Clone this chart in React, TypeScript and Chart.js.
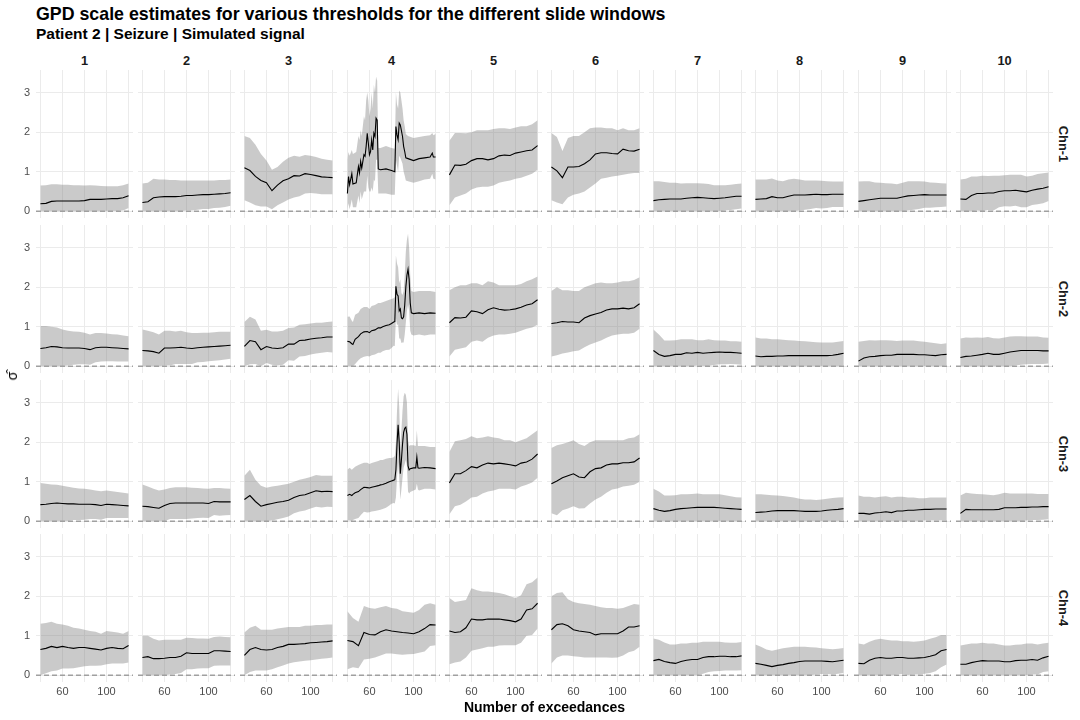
import React, { useEffect, useRef } from 'react';
import { Chart, registerables } from 'chart.js';

Chart.register(...registerables);

// ---------- text ----------
const TITLE = 'GPD scale estimates for various thresholds for the different slide windows';
const SUBTITLE = 'Patient 2 | Seizure | Simulated signal';
const X_TITLE = 'Number of exceedances';
const Y_TITLE = 'σ̂';
const WINDOWS = ['1', '2', '3', '4', '5', '6', '7', '8', '9', '10'];
const CHANNELS = ['Chn-1', 'Chn-2', 'Chn-3', 'Chn-4'];

// ---------- axes ----------
const X_GRID = [40, 60, 80, 100, 120];
const X_LABELED = [60, 100];
const Y_GRID = [0, 1, 2, 3];
const X_MIN = 36;
const X_MAX = 124;
const Y_MIN = -0.17;
const Y_MAX = 3.57;
const ZERO_LINE_Y = 0;

// ---------- x values (number of exceedances) ----------
const X_COMMON = [40, 45, 50, 55, 60, 65, 70, 75, 80, 85, 90, 95, 100, 105, 110, 115, 120];
const X_CHN1_W4 = [40, 41, 42, 44, 45, 48, 50, 51, 52, 53, 55, 56, 57, 58, 59, 60, 61, 62, 63, 64, 65, 66, 67, 68, 70, 75, 80, 83, 84, 85, 86, 87, 88, 90, 91, 92, 93, 95, 100, 105, 110, 115, 117, 118, 120];
const X_CHN2_W4 = [40, 42, 44, 45, 47, 50, 52, 55, 58, 60, 62, 65, 68, 70, 72, 75, 78, 80, 82, 83, 84, 85, 86, 87, 88, 89, 90, 91, 92, 93, 94, 95, 96, 97, 98, 100, 105, 110, 115, 120];
const X_CHN3_W4 = [40, 42, 44, 45, 47, 50, 52, 55, 58, 60, 62, 65, 68, 70, 72, 75, 78, 80, 82, 83, 84, 85, 86, 87, 88, 89, 90, 91, 92, 93, 94, 95, 96, 97, 100, 102, 103, 104, 105, 110, 115, 120];

// ---------- Chn-1 ----------
const CHN1_EST = [
  [0.19, 0.20, 0.25, 0.26, 0.26, 0.26, 0.26, 0.26, 0.27, 0.30, 0.30, 0.30, 0.31, 0.32, 0.32, 0.34, 0.39],
  [0.22, 0.24, 0.34, 0.36, 0.37, 0.37, 0.37, 0.38, 0.40, 0.40, 0.41, 0.42, 0.42, 0.43, 0.44, 0.45, 0.47],
  [1.10, 1.03, 0.88, 0.78, 0.72, 0.52, 0.66, 0.77, 0.82, 0.90, 0.89, 0.95, 0.93, 0.90, 0.87, 0.86, 0.85],
  [0.45, 0.88, 0.67, 0.95, 0.69, 0.72, 1.13, 0.97, 1.26, 1.09, 1.43, 1.39, 1.64, 1.97, 1.72, 1.43, 1.51, 1.80, 1.55, 1.97, 1.89, 2.35, 2.30, 1.07, 1.05, 1.07, 1.03, 1.00, 2.14, 1.93, 1.81, 2.23, 2.18, 1.89, 1.64, 1.51, 1.35, 1.33, 1.28, 1.33, 1.35, 1.37, 1.47, 1.37, 1.37],
  [0.92, 1.17, 1.16, 1.19, 1.28, 1.33, 1.33, 1.30, 1.33, 1.40, 1.42, 1.41, 1.47, 1.50, 1.53, 1.55, 1.66],
  [1.12, 1.02, 0.85, 1.12, 1.12, 1.13, 1.20, 1.30, 1.45, 1.48, 1.48, 1.46, 1.45, 1.57, 1.53, 1.52, 1.57],
  [0.27, 0.29, 0.30, 0.31, 0.31, 0.31, 0.33, 0.34, 0.35, 0.34, 0.33, 0.32, 0.33, 0.34, 0.36, 0.38, 0.38],
  [0.30, 0.31, 0.32, 0.37, 0.34, 0.34, 0.38, 0.41, 0.41, 0.41, 0.42, 0.43, 0.42, 0.42, 0.43, 0.43, 0.43],
  [0.25, 0.27, 0.29, 0.31, 0.33, 0.33, 0.33, 0.33, 0.36, 0.39, 0.40, 0.41, 0.42, 0.41, 0.41, 0.41, 0.41],
  [0.31, 0.30, 0.40, 0.45, 0.45, 0.46, 0.46, 0.50, 0.52, 0.52, 0.53, 0.51, 0.49, 0.53, 0.56, 0.58, 0.62],
];
const CHN1_UPPER = [
  [0.65, 0.66, 0.68, 0.68, 0.67, 0.67, 0.66, 0.66, 0.65, 0.66, 0.65, 0.64, 0.63, 0.63, 0.63, 0.66, 0.70],
  [0.70, 0.72, 0.82, 0.80, 0.80, 0.79, 0.79, 0.78, 0.78, 0.78, 0.78, 0.78, 0.78, 0.78, 0.79, 0.79, 0.80],
  [1.90, 1.85, 1.68, 1.45, 1.28, 1.05, 1.12, 1.25, 1.35, 1.40, 1.38, 1.42, 1.40, 1.37, 1.33, 1.30, 1.28],
  [1.30, 1.50, 1.40, 1.55, 1.45, 1.50, 1.90, 1.80, 2.05, 1.90, 2.40, 2.30, 2.80, 3.00, 2.80, 2.40, 2.60, 3.00, 2.60, 3.20, 3.00, 3.40, 3.30, 1.60, 1.60, 1.65, 1.60, 1.58, 3.00, 2.70, 2.60, 3.05, 3.00, 2.60, 2.30, 2.15, 1.95, 1.90, 1.85, 1.88, 1.90, 1.92, 1.98, 1.92, 1.95],
  [1.78, 1.98, 1.98, 1.97, 2.00, 2.05, 2.05, 2.05, 2.08, 2.10, 2.10, 2.08, 2.12, 2.15, 2.15, 2.20, 2.30],
  [1.98, 1.88, 1.52, 1.85, 1.90, 1.90, 2.00, 2.10, 2.12, 2.12, 2.10, 2.10, 2.05, 2.10, 2.05, 2.05, 2.10],
  [0.76, 0.76, 0.74, 0.72, 0.72, 0.70, 0.71, 0.71, 0.71, 0.70, 0.69, 0.66, 0.66, 0.66, 0.67, 0.69, 0.70],
  [0.80, 0.80, 0.80, 0.83, 0.78, 0.76, 0.80, 0.82, 0.80, 0.78, 0.78, 0.78, 0.77, 0.76, 0.75, 0.75, 0.75],
  [0.75, 0.76, 0.76, 0.73, 0.72, 0.71, 0.70, 0.68, 0.72, 0.76, 0.76, 0.76, 0.75, 0.73, 0.72, 0.71, 0.70],
  [0.80, 0.82, 0.88, 0.88, 0.90, 0.89, 0.90, 0.90, 0.91, 0.92, 0.92, 0.92, 0.88, 0.90, 0.94, 0.96, 0.98],
];
const CHN1_LOWER = [
  [0, 0, 0, 0, 0, 0, 0, 0, 0, 0, 0, 0, 0, 0.01, 0.01, 0.02, 0.08],
  [0, 0, 0, 0, 0, 0, 0, 0, 0.02, 0.02, 0.04, 0.06, 0.06, 0.08, 0.09, 0.11, 0.14],
  [0.28, 0.22, 0.15, 0.12, 0.12, 0.05, 0.15, 0.22, 0.30, 0.35, 0.38, 0.45, 0.46, 0.45, 0.43, 0.43, 0.43],
  [0.02, 0.20, 0.05, 0.30, 0.10, 0.10, 0.40, 0.20, 0.50, 0.30, 0.50, 0.50, 0.50, 0.90, 0.60, 0.50, 0.50, 0.60, 0.50, 0.80, 0.75, 1.30, 1.30, 0.45, 0.45, 0.45, 0.42, 0.42, 1.30, 1.15, 1.00, 1.40, 1.35, 1.20, 1.00, 0.90, 0.78, 0.76, 0.72, 0.76, 0.80, 0.82, 0.95, 0.82, 0.80],
  [0.15, 0.35, 0.40, 0.45, 0.55, 0.60, 0.62, 0.62, 0.65, 0.72, 0.75, 0.78, 0.82, 0.85, 0.90, 0.95, 1.05],
  [0.28, 0.22, 0.18, 0.35, 0.42, 0.45, 0.50, 0.60, 0.70, 0.82, 0.85, 0.88, 0.90, 0.92, 0.95, 0.97, 0.97],
  [0, 0, 0, 0, 0, 0, 0, 0, 0, 0, 0, 0, 0, 0.02, 0.03, 0.05, 0.07],
  [0, 0, 0, 0, 0, 0, 0, 0, 0.02, 0.04, 0.06, 0.08, 0.07, 0.08, 0.11, 0.11, 0.11],
  [0, 0, 0, 0, 0, 0, 0, 0, 0, 0.02, 0.04, 0.06, 0.09, 0.09, 0.10, 0.11, 0.12],
  [0, 0, 0, 0.02, 0, 0.03, 0.02, 0.10, 0.13, 0.12, 0.14, 0.10, 0.10, 0.16, 0.18, 0.20, 0.26],
];

// ---------- Chn-2 ----------
const CHN2_EST = [
  [0.45, 0.47, 0.50, 0.49, 0.47, 0.46, 0.46, 0.46, 0.45, 0.42, 0.47, 0.48, 0.48, 0.47, 0.46, 0.45, 0.44],
  [0.40, 0.39, 0.37, 0.33, 0.46, 0.46, 0.47, 0.48, 0.46, 0.45, 0.47, 0.48, 0.49, 0.50, 0.51, 0.52, 0.53],
  [0.50, 0.65, 0.62, 0.42, 0.50, 0.46, 0.45, 0.47, 0.56, 0.56, 0.65, 0.66, 0.69, 0.71, 0.72, 0.74, 0.74],
  [0.63, 0.62, 0.57, 0.55, 0.68, 0.75, 0.82, 0.87, 0.88, 0.85, 0.90, 0.92, 0.97, 0.97, 1.00, 1.03, 1.05, 1.08, 1.12, 1.13, 2.02, 1.82, 1.78, 1.40, 1.45, 1.22, 1.20, 1.25, 1.55, 2.00, 2.30, 2.45, 2.20, 1.60, 1.35, 1.33, 1.35, 1.33, 1.35, 1.34],
  [1.10, 1.23, 1.22, 1.24, 1.40, 1.38, 1.33, 1.43, 1.48, 1.44, 1.42, 1.43, 1.45, 1.49, 1.55, 1.58, 1.68],
  [1.08, 1.10, 1.13, 1.12, 1.12, 1.10, 1.22, 1.28, 1.32, 1.36, 1.42, 1.45, 1.45, 1.47, 1.45, 1.48, 1.58],
  [0.40, 0.30, 0.25, 0.27, 0.30, 0.30, 0.34, 0.33, 0.35, 0.33, 0.34, 0.35, 0.36, 0.35, 0.35, 0.34, 0.33],
  [0.26, 0.24, 0.25, 0.25, 0.26, 0.26, 0.27, 0.27, 0.27, 0.27, 0.27, 0.27, 0.27, 0.27, 0.28, 0.30, 0.33],
  [0.13, 0.21, 0.24, 0.25, 0.27, 0.28, 0.28, 0.30, 0.30, 0.30, 0.30, 0.29, 0.29, 0.28, 0.27, 0.29, 0.30],
  [0.22, 0.25, 0.26, 0.28, 0.30, 0.33, 0.30, 0.30, 0.33, 0.36, 0.38, 0.40, 0.40, 0.40, 0.40, 0.39, 0.39],
];
const CHN2_UPPER = [
  [1.02, 1.02, 1.00, 0.98, 0.93, 0.90, 0.88, 0.87, 0.85, 0.80, 0.84, 0.84, 0.83, 0.81, 0.80, 0.78, 0.76],
  [0.93, 0.90, 0.86, 0.80, 0.90, 0.90, 0.88, 0.90, 0.86, 0.84, 0.84, 0.85, 0.85, 0.86, 0.87, 0.87, 0.87],
  [1.12, 1.25, 1.18, 0.90, 0.92, 0.88, 0.88, 0.90, 0.97, 0.98, 1.05, 1.06, 1.08, 1.10, 1.10, 1.12, 1.13],
  [1.25, 1.26, 1.15, 1.12, 1.30, 1.35, 1.45, 1.50, 1.50, 1.45, 1.52, 1.55, 1.60, 1.60, 1.62, 1.65, 1.68, 1.70, 1.72, 1.75, 2.80, 2.60, 2.50, 2.10, 2.20, 1.85, 1.80, 1.90, 2.30, 2.90, 3.20, 3.35, 3.00, 2.30, 1.90, 1.88, 1.90, 1.90, 1.90, 1.88],
  [1.92, 2.00, 2.05, 2.05, 2.10, 2.10, 2.05, 2.15, 2.12, 2.05, 2.05, 2.05, 2.05, 2.08, 2.15, 2.20, 2.27],
  [1.90, 2.00, 1.92, 1.92, 1.90, 1.90, 2.00, 2.05, 2.10, 2.12, 2.10, 2.10, 2.12, 2.15, 2.15, 2.18, 2.25],
  [0.93, 0.80, 0.65, 0.65, 0.66, 0.68, 0.68, 0.68, 0.66, 0.66, 0.68, 0.66, 0.65, 0.65, 0.63, 0.63, 0.62],
  [0.73, 0.70, 0.70, 0.68, 0.68, 0.67, 0.66, 0.65, 0.64, 0.63, 0.62, 0.61, 0.60, 0.60, 0.60, 0.62, 0.64],
  [0.62, 0.64, 0.66, 0.65, 0.66, 0.66, 0.65, 0.64, 0.65, 0.65, 0.65, 0.63, 0.62, 0.60, 0.58, 0.56, 0.58],
  [0.70, 0.73, 0.72, 0.73, 0.72, 0.74, 0.71, 0.70, 0.73, 0.75, 0.76, 0.76, 0.75, 0.75, 0.75, 0.73, 0.72],
];
const CHN2_LOWER = [
  [0, 0, 0, 0, 0.01, 0.02, 0.04, 0.05, 0.05, 0.04, 0.10, 0.12, 0.13, 0.13, 0.12, 0.12, 0.12],
  [0, 0, 0, 0, 0.02, 0.02, 0.06, 0.06, 0.06, 0.06, 0.10, 0.11, 0.13, 0.14, 0.15, 0.17, 0.19],
  [0, 0.05, 0.06, 0, 0.08, 0.04, 0.02, 0.04, 0.15, 0.14, 0.25, 0.26, 0.30, 0.32, 0.34, 0.36, 0.35],
  [0.01, 0, 0, 0, 0.06, 0.15, 0.20, 0.24, 0.26, 0.25, 0.28, 0.30, 0.34, 0.34, 0.38, 0.41, 0.42, 0.46, 0.52, 0.51, 1.22, 1.04, 1.06, 0.70, 0.70, 0.59, 0.60, 0.60, 0.80, 1.10, 1.40, 1.55, 1.40, 0.90, 0.80, 0.78, 0.80, 0.78, 0.80, 0.80],
  [0.25, 0.42, 0.45, 0.48, 0.62, 0.65, 0.62, 0.72, 0.78, 0.80, 0.80, 0.82, 0.85, 0.90, 0.95, 0.98, 1.05],
  [0.25, 0.28, 0.32, 0.35, 0.38, 0.40, 0.48, 0.55, 0.60, 0.65, 0.72, 0.78, 0.80, 0.82, 0.82, 0.85, 0.95],
  [0, 0, 0, 0, 0, 0, 0, 0, 0.02, 0.01, 0.01, 0.03, 0.05, 0.05, 0.06, 0.05, 0.04],
  [0, 0, 0, 0, 0, 0, 0, 0, 0, 0, 0, 0, 0, 0, 0, 0, 0.02],
  [0, 0, 0, 0, 0, 0, 0, 0, 0, 0, 0, 0, 0, 0, 0, 0, 0.02],
  [0, 0, 0, 0, 0, 0, 0, 0, 0, 0, 0.02, 0.04, 0.05, 0.06, 0.06, 0.06, 0.07],
];

// ---------- Chn-3 ----------
const CHN3_EST = [
  [0.42, 0.43, 0.45, 0.46, 0.45, 0.44, 0.44, 0.43, 0.43, 0.43, 0.42, 0.40, 0.43, 0.42, 0.41, 0.40, 0.39],
  [0.38, 0.37, 0.35, 0.33, 0.40, 0.45, 0.46, 0.46, 0.46, 0.46, 0.46, 0.46, 0.45, 0.50, 0.49, 0.49, 0.49],
  [0.55, 0.65, 0.50, 0.38, 0.42, 0.45, 0.48, 0.50, 0.53, 0.60, 0.65, 0.67, 0.72, 0.77, 0.75, 0.76, 0.75],
  [0.65, 0.68, 0.65, 0.68, 0.72, 0.75, 0.80, 0.86, 0.85, 0.84, 0.86, 0.88, 0.90, 0.92, 0.93, 0.96, 1.00, 1.02, 1.04, 1.05, 1.30, 1.95, 2.44, 2.00, 1.20, 1.55, 1.95, 2.25, 2.35, 2.38, 2.20, 1.40, 1.30, 1.33, 1.35, 1.35, 1.62, 1.35, 1.34, 1.36, 1.35, 1.33],
  [0.97, 1.20, 1.20, 1.28, 1.38, 1.35, 1.42, 1.47, 1.45, 1.47, 1.45, 1.43, 1.40, 1.47, 1.50, 1.57, 1.70],
  [0.95, 1.02, 1.10, 1.15, 1.20, 1.12, 1.10, 1.25, 1.33, 1.35, 1.42, 1.45, 1.45, 1.48, 1.48, 1.50, 1.60],
  [0.32, 0.28, 0.25, 0.27, 0.30, 0.32, 0.33, 0.34, 0.35, 0.35, 0.35, 0.35, 0.34, 0.33, 0.32, 0.31, 0.30],
  [0.22, 0.23, 0.24, 0.26, 0.27, 0.27, 0.27, 0.27, 0.26, 0.25, 0.25, 0.25, 0.26, 0.28, 0.29, 0.30, 0.32],
  [0.20, 0.20, 0.18, 0.21, 0.22, 0.24, 0.22, 0.26, 0.26, 0.28, 0.28, 0.29, 0.30, 0.30, 0.31, 0.31, 0.31],
  [0.20, 0.30, 0.29, 0.29, 0.29, 0.29, 0.29, 0.30, 0.34, 0.34, 0.34, 0.35, 0.35, 0.36, 0.36, 0.37, 0.37],
];
const CHN3_UPPER = [
  [0.97, 0.95, 0.93, 0.92, 0.90, 0.87, 0.85, 0.83, 0.82, 0.80, 0.78, 0.76, 0.78, 0.76, 0.74, 0.72, 0.70],
  [0.93, 0.88, 0.82, 0.78, 0.80, 0.84, 0.86, 0.86, 0.86, 0.85, 0.84, 0.83, 0.82, 0.84, 0.84, 0.83, 0.82],
  [1.15, 1.30, 1.05, 0.90, 0.85, 0.88, 0.90, 0.92, 0.95, 1.00, 1.05, 1.08, 1.12, 1.17, 1.15, 1.15, 1.15],
  [1.30, 1.35, 1.30, 1.33, 1.38, 1.42, 1.45, 1.48, 1.48, 1.45, 1.47, 1.50, 1.52, 1.55, 1.55, 1.58, 1.60, 1.60, 1.62, 1.65, 2.00, 2.80, 3.35, 2.90, 1.85, 2.30, 2.80, 3.15, 3.25, 3.20, 3.00, 2.05, 1.90, 1.92, 1.92, 1.90, 2.30, 1.90, 1.90, 1.90, 1.88, 1.88],
  [1.75, 2.02, 2.05, 2.08, 2.15, 2.10, 2.12, 2.15, 2.12, 2.10, 2.05, 2.05, 2.00, 2.05, 2.10, 2.20, 2.30],
  [1.85, 1.92, 1.95, 2.00, 2.05, 1.95, 1.90, 2.00, 2.05, 2.05, 2.05, 2.05, 2.05, 2.05, 2.10, 2.12, 2.20],
  [0.82, 0.75, 0.65, 0.65, 0.66, 0.68, 0.68, 0.69, 0.70, 0.68, 0.68, 0.68, 0.68, 0.66, 0.63, 0.61, 0.60],
  [0.68, 0.68, 0.67, 0.66, 0.65, 0.64, 0.62, 0.60, 0.57, 0.55, 0.55, 0.54, 0.55, 0.57, 0.59, 0.60, 0.61],
  [0.65, 0.62, 0.62, 0.60, 0.62, 0.63, 0.60, 0.62, 0.62, 0.60, 0.60, 0.58, 0.58, 0.60, 0.60, 0.60, 0.60],
  [0.65, 0.72, 0.70, 0.69, 0.68, 0.67, 0.66, 0.68, 0.72, 0.70, 0.70, 0.70, 0.70, 0.70, 0.69, 0.69, 0.69],
];
const CHN3_LOWER = [
  [0, 0, 0, 0, 0, 0.01, 0.03, 0.03, 0.04, 0.06, 0.06, 0.04, 0.08, 0.08, 0.08, 0.08, 0.08],
  [0, 0, 0, 0, 0, 0.06, 0.06, 0.06, 0.06, 0.07, 0.08, 0.09, 0.08, 0.16, 0.14, 0.15, 0.16],
  [0, 0, 0, 0, 0, 0.02, 0.05, 0.08, 0.12, 0.20, 0.25, 0.27, 0.32, 0.37, 0.35, 0.37, 0.36],
  [0.02, 0.02, 0, 0.03, 0.06, 0.08, 0.15, 0.24, 0.22, 0.23, 0.25, 0.26, 0.28, 0.29, 0.31, 0.34, 0.40, 0.44, 0.46, 0.45, 0.60, 1.10, 1.50, 1.10, 0.55, 0.80, 1.10, 1.35, 1.45, 1.55, 1.40, 0.75, 0.70, 0.74, 0.78, 0.80, 0.95, 0.80, 0.78, 0.82, 0.82, 0.80],
  [0.18, 0.38, 0.42, 0.50, 0.60, 0.62, 0.70, 0.75, 0.78, 0.82, 0.82, 0.82, 0.80, 0.88, 0.92, 0.98, 1.10],
  [0.20, 0.15, 0.28, 0.32, 0.38, 0.32, 0.33, 0.45, 0.55, 0.62, 0.72, 0.80, 0.83, 0.88, 0.90, 0.92, 1.00],
  [0, 0, 0, 0, 0, 0, 0, 0, 0, 0, 0, 0, 0, 0, 0, 0, 0],
  [0, 0, 0, 0, 0, 0, 0, 0, 0, 0, 0, 0, 0, 0, 0, 0, 0.03],
  [0, 0, 0, 0, 0, 0, 0, 0, 0, 0, 0, 0, 0.02, 0.02, 0.02, 0.02, 0.02],
  [0, 0, 0, 0, 0, 0, 0, 0, 0, 0, 0, 0, 0.02, 0.03, 0.03, 0.04, 0.05],
];

// ---------- Chn-4 ----------
const CHN4_EST = [
  [0.65, 0.68, 0.73, 0.70, 0.73, 0.70, 0.68, 0.70, 0.70, 0.68, 0.66, 0.64, 0.68, 0.70, 0.68, 0.67, 0.75],
  [0.45, 0.47, 0.42, 0.42, 0.43, 0.45, 0.45, 0.48, 0.57, 0.55, 0.55, 0.55, 0.55, 0.62, 0.62, 0.61, 0.60],
  [0.50, 0.65, 0.70, 0.65, 0.64, 0.65, 0.70, 0.73, 0.78, 0.78, 0.79, 0.80, 0.82, 0.83, 0.84, 0.85, 0.87],
  [0.88, 0.85, 0.75, 1.08, 1.03, 1.02, 1.10, 1.15, 1.12, 1.10, 1.08, 1.07, 1.05, 1.10, 1.18, 1.28, 1.27],
  [1.12, 1.08, 1.10, 1.20, 1.42, 1.40, 1.40, 1.42, 1.42, 1.42, 1.40, 1.38, 1.35, 1.42, 1.65, 1.68, 1.82],
  [1.15, 1.28, 1.30, 1.25, 1.15, 1.12, 1.10, 1.08, 1.02, 1.05, 1.05, 1.05, 1.05, 1.12, 1.22, 1.22, 1.25],
  [0.37, 0.40, 0.35, 0.32, 0.30, 0.35, 0.38, 0.40, 0.40, 0.45, 0.47, 0.47, 0.48, 0.48, 0.47, 0.47, 0.49],
  [0.30, 0.28, 0.25, 0.22, 0.25, 0.27, 0.30, 0.32, 0.35, 0.36, 0.36, 0.36, 0.36, 0.35, 0.34, 0.36, 0.38],
  [0.30, 0.29, 0.38, 0.43, 0.45, 0.43, 0.43, 0.45, 0.45, 0.43, 0.43, 0.44, 0.45, 0.48, 0.52, 0.62, 0.65],
  [0.28, 0.28, 0.32, 0.35, 0.37, 0.36, 0.36, 0.36, 0.34, 0.34, 0.37, 0.38, 0.38, 0.40, 0.38, 0.44, 0.48],
];
const CHN4_UPPER = [
  [1.30, 1.32, 1.35, 1.30, 1.28, 1.25, 1.20, 1.18, 1.15, 1.12, 1.10, 1.05, 1.12, 1.10, 1.08, 1.05, 1.12],
  [1.00, 1.00, 0.92, 0.88, 0.90, 0.90, 0.90, 0.90, 0.95, 0.94, 0.93, 0.93, 0.92, 0.97, 0.98, 0.97, 0.96],
  [1.08, 1.20, 1.25, 1.15, 1.15, 1.15, 1.18, 1.20, 1.22, 1.22, 1.22, 1.25, 1.25, 1.27, 1.27, 1.28, 1.28],
  [1.62, 1.45, 1.35, 1.75, 1.70, 1.68, 1.72, 1.75, 1.70, 1.68, 1.62, 1.60, 1.58, 1.65, 1.78, 1.82, 1.78],
  [1.95, 1.85, 1.88, 1.90, 2.20, 2.15, 2.12, 2.12, 2.10, 2.08, 2.05, 2.00, 1.95, 2.02, 2.30, 2.35, 2.47],
  [2.00, 2.08, 2.10, 1.92, 1.85, 1.82, 1.80, 1.78, 1.75, 1.72, 1.70, 1.70, 1.68, 1.70, 1.75, 1.80, 1.78],
  [0.93, 0.90, 0.83, 0.78, 0.78, 0.80, 0.80, 0.82, 0.82, 0.85, 0.85, 0.85, 0.85, 0.83, 0.82, 0.82, 0.84],
  [0.78, 0.72, 0.65, 0.62, 0.65, 0.68, 0.70, 0.72, 0.72, 0.72, 0.71, 0.70, 0.68, 0.67, 0.66, 0.67, 0.69],
  [0.80, 0.78, 0.85, 0.90, 0.92, 0.90, 0.88, 0.88, 0.86, 0.86, 0.85, 0.86, 0.88, 0.92, 0.96, 1.02, 1.02],
  [0.75, 0.78, 0.80, 0.80, 0.82, 0.80, 0.80, 0.78, 0.75, 0.75, 0.77, 0.78, 0.80, 0.80, 0.78, 0.80, 0.82],
];
const CHN4_LOWER = [
  [0, 0.05, 0.10, 0.12, 0.17, 0.17, 0.18, 0.20, 0.23, 0.24, 0.24, 0.25, 0.28, 0.30, 0.30, 0.30, 0.32],
  [0, 0, 0, 0, 0, 0.02, 0.03, 0.06, 0.15, 0.15, 0.17, 0.18, 0.18, 0.24, 0.25, 0.25, 0.25],
  [0, 0.08, 0.12, 0.12, 0.12, 0.15, 0.20, 0.25, 0.30, 0.33, 0.35, 0.37, 0.38, 0.40, 0.42, 0.43, 0.45],
  [0.15, 0.20, 0.18, 0.40, 0.42, 0.45, 0.50, 0.55, 0.55, 0.53, 0.52, 0.53, 0.54, 0.57, 0.60, 0.74, 0.76],
  [0.28, 0.32, 0.35, 0.45, 0.62, 0.65, 0.68, 0.72, 0.72, 0.75, 0.76, 0.76, 0.76, 0.82, 1.00, 1.02, 1.18],
  [0.30, 0.45, 0.50, 0.50, 0.48, 0.47, 0.45, 0.45, 0.45, 0.45, 0.45, 0.44, 0.45, 0.50, 0.58, 0.62, 0.72],
  [0, 0, 0, 0, 0, 0, 0, 0, 0, 0.04, 0.08, 0.10, 0.11, 0.12, 0.12, 0.12, 0.13],
  [0, 0, 0, 0, 0, 0, 0, 0, 0, 0, 0, 0.02, 0.03, 0.03, 0.02, 0.04, 0.06],
  [0, 0, 0, 0, 0, 0, 0, 0.02, 0.03, 0.01, 0.02, 0.02, 0.04, 0.06, 0.10, 0.20, 0.27],
  [0, 0, 0, 0, 0, 0, 0, 0, 0, 0, 0, 0, 0, 0.02, 0.02, 0.08, 0.10],
];

const EST = [CHN1_EST, CHN2_EST, CHN3_EST, CHN4_EST];
const UPPER = [CHN1_UPPER, CHN2_UPPER, CHN3_UPPER, CHN4_UPPER];
const LOWER = [CHN1_LOWER, CHN2_LOWER, CHN3_LOWER, CHN4_LOWER];
const X_WINDOW4 = [X_CHN1_W4, X_CHN2_W4, X_CHN3_W4];

function xsFor(r: number, c: number): number[] {
  if (c === 3 && r < X_WINDOW4.length) return X_WINDOW4[r];
  return X_COMMON;
}

// ---------- layout & style ----------
const FONT = '"Liberation Sans", Arial, Helvetica, sans-serif';
const PANEL_X0 = 36;
const PITCH_X = 102.2;
const PANEL_W = 97;
const PANEL_Y0 = 70;
const PITCH_Y = 154.8;
const PANEL_H = 148;
const Y_AXIS_W = 36;
const X_AXIS_H = 24;
const GRID_COLOR = '#EBEBEB';
const BAND_COLOR = 'rgba(128,128,128,0.42)';
const TICK_COLOR = '#4D4D4D';
const STRIP_COLOR = '#1A1A1A';

const zeroLinePlugin = {
  id: 'zeroLine',
  afterDatasetsDraw(chart: any) {
    const { ctx, chartArea, scales } = chart;
    const y = scales.y.getPixelForValue(ZERO_LINE_Y);
    ctx.save();
    ctx.strokeStyle = '#A0A0A0';
    ctx.lineWidth = 1.3;
    ctx.setLineDash([5, 3]);
    ctx.beginPath();
    ctx.moveTo(chartArea.left, y);
    ctx.lineTo(chartArea.right, y);
    ctx.stroke();
    ctx.restore();
  },
};

function Panel({ r, c }: { r: number; c: number }) {
  const ref = useRef<HTMLCanvasElement>(null);
  const isLeft = c === 0;
  const isBottom = r === CHANNELS.length - 1;
  const left = Math.round(PANEL_X0 + c * PITCH_X) - (isLeft ? Y_AXIS_W : 0);
  const top = Math.round(PANEL_Y0 + r * PITCH_Y);
  const w = PANEL_W + (isLeft ? Y_AXIS_W : 0);
  const h = PANEL_H + (isBottom ? X_AXIS_H : 0);

  useEffect(() => {
    const xs = xsFor(r, c);
    const pts = (arr: number[]) => xs.map((x, i) => ({ x, y: arr[i] }));
    const chart = new Chart(ref.current as HTMLCanvasElement, {
      type: 'line',
      data: {
        datasets: [
          {
            data: pts(EST[r][c]),
            borderColor: '#000000',
            borderWidth: 1.1,
            pointRadius: 0,
            tension: 0,
            fill: false,
          },
          {
            data: pts(UPPER[r][c]),
            borderColor: 'transparent',
            borderWidth: 0,
            pointRadius: 0,
            tension: 0,
            backgroundColor: BAND_COLOR,
            fill: '+1',
          },
          {
            data: pts(LOWER[r][c]),
            borderColor: 'transparent',
            borderWidth: 0,
            pointRadius: 0,
            tension: 0,
            fill: false,
          },
        ],
      },
      options: {
        animation: false,
        responsive: false,
        devicePixelRatio: window.devicePixelRatio || 1,
        events: [],
        layout: { padding: 0 },
        plugins: { legend: { display: false }, tooltip: { enabled: false } },
        scales: {
          x: {
            type: 'linear',
            min: X_MIN,
            max: X_MAX,
            afterBuildTicks: (s: any) => {
              s.ticks = X_GRID.map((v) => ({ value: v }));
            },
            afterFit: (s: any) => {
              s.height = isBottom ? X_AXIS_H : 0;
              s.paddingLeft = 0;
              s.paddingRight = 0;
            },
            ticks: {
              display: isBottom,
              autoSkip: false,
              maxRotation: 0,
              padding: 3,
              color: TICK_COLOR,
              font: { family: FONT, size: 11 },
              callback: (v: any) => (X_LABELED.includes(Number(v)) ? String(v) : ''),
            },
            grid: { color: GRID_COLOR, lineWidth: 1, drawTicks: false },
            border: { display: false },
          },
          y: {
            type: 'linear',
            min: Y_MIN,
            max: Y_MAX,
            afterBuildTicks: (s: any) => {
              s.ticks = Y_GRID.map((v) => ({ value: v }));
            },
            afterFit: (s: any) => {
              s.width = isLeft ? Y_AXIS_W : 0;
              s.paddingTop = 0;
              s.paddingBottom = 0;
            },
            ticks: {
              display: isLeft,
              padding: 6,
              color: TICK_COLOR,
              font: { family: FONT, size: 11 },
              callback: (v: any) => String(v),
            },
            grid: { color: GRID_COLOR, lineWidth: 1, drawTicks: false },
            border: { display: false },
          },
        },
      } as any,
      plugins: [zeroLinePlugin],
    });
    return () => chart.destroy();
  }, [r, c]);

  return (
    <canvas
      ref={ref}
      width={w}
      height={h}
      style={{ position: 'absolute', left, top, width: w, height: h }}
    />
  );
}

export default function App() {
  const panelsBottom = Math.round(PANEL_Y0 + (CHANNELS.length - 1) * PITCH_Y) + PANEL_H;
  const panelsRight = Math.round(PANEL_X0 + (WINDOWS.length - 1) * PITCH_X) + PANEL_W;
  const centerX = (PANEL_X0 + panelsRight) / 2;
  const centerY = (PANEL_Y0 + panelsBottom) / 2;

  return (
    <div
      style={{
        position: 'fixed',
        left: 0,
        top: 0,
        width: 1080,
        height: 720,
        background: '#ffffff',
        overflow: 'hidden',
        fontFamily: FONT,
      }}
    >
      <div
        style={{
          position: 'absolute',
          left: PANEL_X0,
          top: 5.5,
          fontSize: 17.8,
          lineHeight: 1,
          fontWeight: 700,
          color: '#000',
          whiteSpace: 'nowrap',
        }}
      >
        {TITLE}
      </div>
      <div
        style={{
          position: 'absolute',
          left: PANEL_X0,
          top: 26,
          fontSize: 15.5,
          lineHeight: 1,
          fontWeight: 700,
          color: '#000',
          whiteSpace: 'nowrap',
        }}
      >
        {SUBTITLE}
      </div>

      {WINDOWS.map((w, c) => (
        <div
          key={'col' + w}
          style={{
            position: 'absolute',
            left: Math.round(PANEL_X0 + c * PITCH_X),
            width: PANEL_W,
            top: 55,
            fontSize: 12.8,
            lineHeight: 1,
            fontWeight: 700,
            color: STRIP_COLOR,
            textAlign: 'center',
          }}
        >
          {w}
        </div>
      ))}

      {CHANNELS.map((ch, r) => (
        <div
          key={'row' + ch}
          style={{
            position: 'absolute',
            left: panelsRight + 10,
            top: Math.round(PANEL_Y0 + r * PITCH_Y) + PANEL_H / 2,
            fontSize: 12.8,
            lineHeight: 1,
            fontWeight: 700,
            color: STRIP_COLOR,
            whiteSpace: 'nowrap',
            transform: 'translate(-50%, -50%) rotate(90deg)',
          }}
        >
          {ch}
        </div>
      ))}

      {CHANNELS.map((ch, r) =>
        WINDOWS.map((w, c) => <Panel key={ch + '-' + w} r={r} c={c} />)
      )}

      <div
        style={{
          position: 'absolute',
          left: centerX,
          top: 700,
          fontSize: 14,
          lineHeight: 1,
          fontWeight: 700,
          color: '#000',
          whiteSpace: 'nowrap',
          transform: 'translateX(-50%)',
        }}
      >
        {X_TITLE}
      </div>
      <div
        style={{
          position: 'absolute',
          left: 12,
          top: centerY,
          fontSize: 14,
          lineHeight: 1,
          color: '#000',
          whiteSpace: 'nowrap',
          transform: 'translate(-50%, -50%) rotate(-90deg)',
        }}
      >
        {Y_TITLE}
      </div>
    </div>
  );
}
